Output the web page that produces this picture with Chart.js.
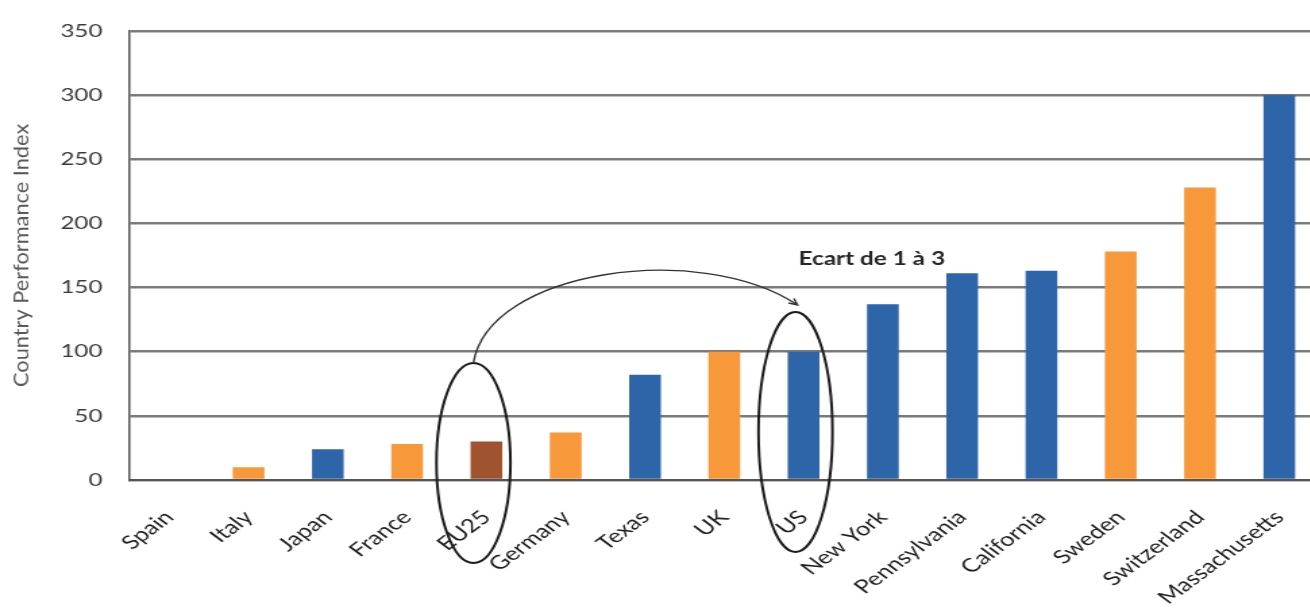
<!DOCTYPE html>
<html>
<head>
<meta charset="utf-8">
<script src="https://cdn.jsdelivr.net/npm/chart.js@4"></script>
<style>
  html, body { margin: 0; padding: 0; background: #fff; overflow: hidden; width: 1310px; height: 615px; }
  /* the chart is drawn on a narrower canvas and widened horizontally */
  #wrap { position: absolute; left: 0; top: 0; width: 980px; height: 615px; transform: scaleX(1.35); transform-origin: 0 0; }
  canvas { display: block; }
</style>
</head>
<body>
<div id="wrap"><canvas id="c" width="980" height="615"></canvas></div>
<script>
// Country / state performance index
const categories = ['Spain', 'Italy', 'Japan', 'France', 'EU25', 'Germany', 'Texas', 'UK', 'US',
  'New York', 'Pennsylvania', 'California', 'Sweden', 'Switzerland', 'Massachusetts'];
const performanceIndex = [0, 10, 24, 28, 30, 37, 82, 100, 100, 137, 161, 163, 178, 228, 300];
const regionGroup = ['europe', 'europe', 'other', 'europe', 'eu', 'europe', 'us', 'europe', 'us',
  'us', 'us', 'us', 'europe', 'europe', 'us'];
const yTicks = [0, 50, 100, 150, 200, 250, 300, 350];
const axisTitle = 'Country Performance Index';
const gapLabel = 'Ecart de 1 à 3';
const gapFrom = 'EU25';
const gapTo = 'US';

const groupColors = { europe: '#F7993A', eu: '#A0532F', us: '#2E64A8', other: '#2E64A8' };
const FONT = 'Lato, "Open Sans", sans-serif';

// Vertical axis title, drawn with glyphs elongated along the text direction
const axisTitlePlugin = {
  id: 'axisTitlePlugin',
  afterDraw(chart) {
    const { ctx, chartArea } = chart;
    const cy = (chartArea.top + chartArea.bottom) / 2;
    ctx.save();
    ctx.translate(16, cy);
    ctx.rotate(-Math.PI / 2);
    ctx.scale(1.36, 1);
    ctx.fillStyle = '#595959';
    ctx.font = '16px ' + FONT;
    ctx.textAlign = 'center';
    ctx.textBaseline = 'middle';
    ctx.fillText(axisTitle, 0, 0);
    ctx.restore();
  }
};

// Circles around the two compared labels, joined by a curved arrow
const gapAnnotation = {
  id: 'gapAnnotation',
  afterDatasetsDraw(chart) {
    const { ctx, scales: { x, y } } = chart;
    const base = y.getPixelForValue(0);
    const fromX = x.getPixelForValue(categories.indexOf(gapFrom));
    const toX = x.getPixelForValue(categories.indexOf(gapTo));

    ctx.save();
    ctx.strokeStyle = '#1a1a1a';
    ctx.lineWidth = 2;

    // ellipse around EU25
    const e1 = { cx: fromX - 9.6, cy: base - 17, rx: 27.4, ry: 100 };
    ctx.beginPath();
    ctx.ellipse(e1.cx, e1.cy, e1.rx, e1.ry, 0, 0, Math.PI * 2);
    ctx.stroke();

    // ellipse around US
    const e2 = { cx: toX - 6, cy: base - 48, rx: 27.4, ry: 120 };
    ctx.beginPath();
    ctx.ellipse(e2.cx, e2.cy, e2.rx, e2.ry, 0, 0, Math.PI * 2);
    ctx.stroke();

    // curved arrow between them
    const p0 = { x: e1.cx, y: e1.cy - e1.ry };
    const p3 = { x: toX - 4.5, y: base - 175 };
    const p1 = { x: p0.x + 11, y: base - 210 };
    const p2 = { x: p3.x - 72, y: base - 240 };
    ctx.strokeStyle = '#333';
    ctx.lineWidth = 1.4;
    ctx.beginPath();
    ctx.moveTo(p0.x, p0.y);
    ctx.bezierCurveTo(p1.x, p1.y, p2.x, p2.y, p3.x, p3.y);
    ctx.stroke();

    // arrow head
    const ang = Math.atan2(p3.y - p2.y, p3.x - p2.x);
    const len = 7;
    ctx.beginPath();
    ctx.moveTo(p3.x - len * Math.cos(ang - 0.45), p3.y - len * Math.sin(ang - 0.45));
    ctx.lineTo(p3.x, p3.y);
    ctx.lineTo(p3.x - len * Math.cos(ang + 0.45), p3.y - len * Math.sin(ang + 0.45));
    ctx.stroke();

    // label
    ctx.fillStyle = '#262626';
    ctx.font = 'bold 18px ' + FONT;
    ctx.textAlign = 'left';
    ctx.textBaseline = 'middle';
    ctx.fillText(gapLabel, toX - 3.7, y.getPixelForValue(172));
    ctx.restore();
  }
};

new Chart(document.getElementById('c'), {
  type: 'bar',
  data: {
    labels: categories,
    datasets: [{
      data: performanceIndex,
      backgroundColor: regionGroup.map(g => groupColors[g]),
      borderWidth: 0,
      barPercentage: 0.40,
      categoryPercentage: 1.0
    }]
  },
  options: {
    responsive: false,
    animation: false,
    devicePixelRatio: 1,
    layout: { padding: { top: 20, right: 3, bottom: 0, left: 0 } },
    plugins: { legend: { display: false }, tooltip: { enabled: false } },
    scales: {
      x: {
        grid: { display: false, drawTicks: false },
        border: { display: true, color: '#555', width: 2 },
        ticks: {
          autoSkip: false,
          minRotation: 45,
          maxRotation: 45,
          padding: 26,
          color: '#1f1f1f',
          font: { family: FONT, size: 19 }
        },
        afterFit(scale) {
          scale.height = 135;
          scale.paddingLeft = 0;
          scale.paddingRight = 0;
        }
      },
      y: {
        min: 0,
        max: 350,
        afterBuildTicks(scale) { scale.ticks = yTicks.map(v => ({ value: v })); },
        grid: { color: '#7a7a7a', lineWidth: 2.5, drawTicks: false },
        border: { display: true, color: '#555', width: 1.5 },
        ticks: {
          padding: 20,
          color: '#3a3a3a',
          font: { family: FONT, size: 18 }
        },
        afterFit(scale) { scale.width = 96; }
      }
    }
  },
  plugins: [gapAnnotation, axisTitlePlugin]
});
</script>
</body>
</html>
